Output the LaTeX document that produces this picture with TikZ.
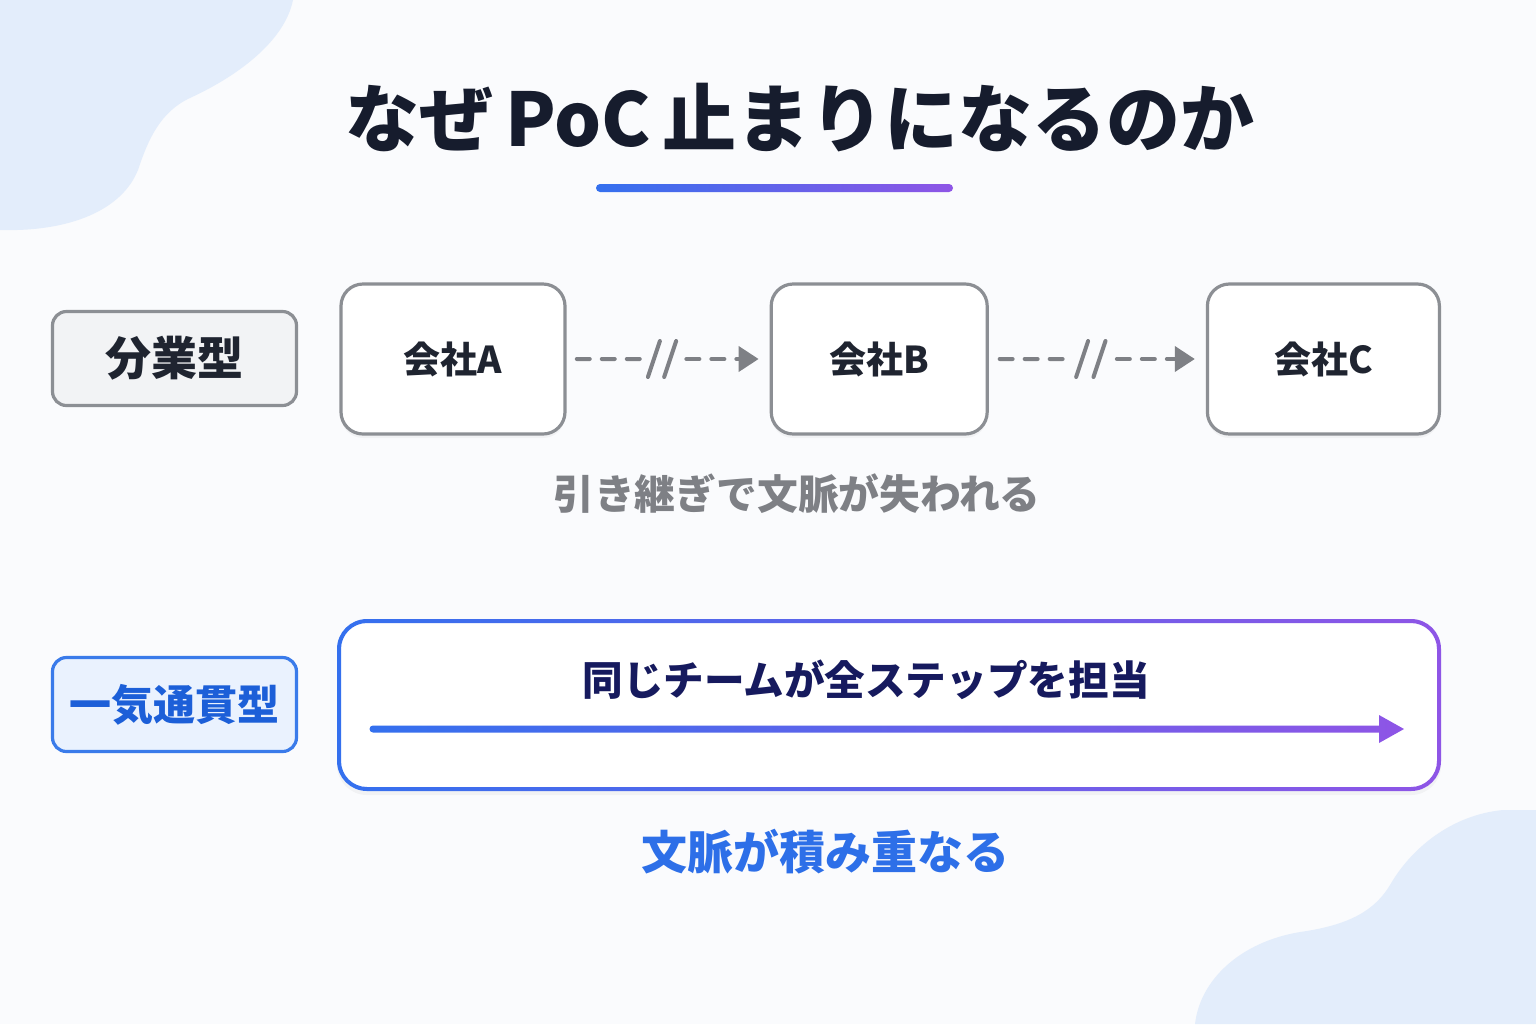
\documentclass[tikz,border=0pt]{standalone}
\usepackage{fontspec}
\setmainfont{Noto Sans CJK JP}
\usepackage{xcolor}
\usetikzlibrary{positioning,calc,arrows.meta,shadows}

\definecolor{pagebg}{HTML}{FAFBFD}
\definecolor{blobblue}{HTML}{E3EDFB}
\definecolor{titleink}{HTML}{161C2D}
\definecolor{textdark}{HTML}{1F2430}
\definecolor{boxgray}{HTML}{8C8F94}
\definecolor{labelgray}{HTML}{F2F3F5}
\definecolor{linkgray}{HTML}{7E8085}
\definecolor{labelblue}{HTML}{3A7BEA}
\definecolor{labelbluefill}{HTML}{EAF2FE}
\definecolor{labelbluetext}{HTML}{1C5FD8}
\definecolor{teamink}{HTML}{161A5E}
\definecolor{gainblue}{HTML}{2D6FE8}
\definecolor{flowblue}{HTML}{3470EE}
\definecolor{flowpurple}{HTML}{8E55E6}

\begin{document}
\begin{tikzpicture}[x=0.5pt, y=-0.5pt,
    kind/.style={rounded corners=7pt, line width=1.6pt, minimum width=122pt, minimum height=47pt},
    company/.style={draw=boxgray, line width=1.6pt, fill=white, rounded corners=11pt,
        minimum height=75pt, text=textdark, font=\bfseries\fontsize{18.5}{22}\selectfont,
        drop shadow={opacity=0.07, shadow xshift=0pt, shadow yshift=-2pt}},
    handoff/.style={draw=linkgray, line width=2pt, line cap=round, dash pattern=on 6.5pt off 6pt},
    cut/.style={draw=linkgray, line width=2pt, line cap=round}]

    % page and background blobs
    \fill[pagebg] (0,0) rectangle (1536,1024);
    \useasboundingbox (0,0) rectangle (1536,1024);
    \fill[blobblue] (0,0) -- (293,0) .. controls (285,40) and (240,75) .. (190,98)
        .. controls (160,112) and (148,140) .. (138,170)
        .. controls (122,210) and (70,232) .. (0,230) -- cycle;
    \fill[blobblue] (1536,810) -- (1503,810) .. controls (1450,815) and (1410,850) .. (1390,885)
        .. controls (1375,910) and (1350,925) .. (1300,932)
        .. controls (1240,942) and (1200,980) .. (1195,1024) -- (1536,1024) -- cycle;

    % title
    \node[text=titleink, font=\bfseries\fontsize{37}{42}\selectfont] (title) at (800,118) {なぜ\hspace{6pt}PoC\hspace{6pt}止まりになるのか};
    \shade[left color=flowblue, right color=flowpurple, rounded corners=2pt] (596,184) rectangle (953,192);

    % split work
    \node[kind, draw=boxgray, fill=labelgray, text=textdark, font=\bfseries\fontsize{23}{26}\selectfont] (split) at (174.5,358.5) {分業型};
    \node[company, minimum width=112pt] (compA) at (453,359) {会社A};
    \node[company, minimum width=108pt, right=101.5pt of compA] (compB) {会社B};
    \node[company, minimum width=116pt, right=108.5pt of compB] (compC) {会社C};

    \foreach \s/\t in {compA/compB, compB/compC} {
        \coordinate (h0) at ($(\s.east)!0.05!(\t.west)$);
        \coordinate (h1) at ($(\s.east)!0.38!(\t.west)$);
        \coordinate (h2) at ($(\s.east)!0.59!(\t.west)$);
        \coordinate (h3) at ($(\t.west)+(-11,0)$);
        \coordinate (s1) at ($(\s.east)!0.43!(\t.west)$);
        \coordinate (s2) at ($(\s.east)!0.51!(\t.west)$);
        \draw[handoff] (h0) -- (h1);
        \draw[handoff, -{Triangle[length=10pt, width=12.5pt]}] (h2) -- (h3);
        \draw[cut] ($(s1)+(-6,18)$) -- ($(s1)+(6,-18)$);
        \draw[cut] ($(s2)+(-6,18)$) -- ($(s2)+(6,-18)$);
    }

    \node[text=linkgray, font=\bfseries\fontsize{20.4}{24}\selectfont] (lost) at (797,494) {引き継ぎで文脈が失われる};

    % end to end
    \node[kind, draw=labelblue, fill=labelbluefill, text=labelbluetext, font=\bfseries\fontsize{21}{24}\selectfont] (through) at (174.5,704.5) {一気通貫型};
    \node[fill=white, rounded corners=15pt, minimum width=552pt, minimum height=86pt, inner sep=0pt, outer sep=0pt,
        drop shadow={opacity=0.07, shadow xshift=0pt, shadow yshift=-2pt}] (team) at (889,705) {};
    \shade[left color=flowblue, right color=flowpurple, even odd rule]
        [rounded corners=15pt] (team.north west) rectangle (team.south east)
        [rounded corners=13pt] ($(team.north west)+(4,4)$) rectangle ($(team.south east)+(-4,-4)$);
    \node[text=teamink, font=\bfseries\fontsize{20.3}{24}\selectfont] (teamtext) at (866,680) {同じチームが全ステップを担当};

    \coordinate (flowstart) at ($(team.west)+(36,24)$);
    \coordinate (flowend) at ($(team.east)+(-37,24)$);
    \shade[left color=flowblue, right color=flowpurple]
        ($(flowstart)+(0,-3.5)$) -- ($(flowend)+(-25,-3.5)$) -- ($(flowend)+(-25,-14)$) -- (flowend)
        -- ($(flowend)+(-25,14)$) -- ($(flowend)+(-25,3.5)$) -- ($(flowstart)+(0,3.5)$) -- cycle
        (flowstart) circle[radius=3.5];

    \node[text=gainblue, font=\bfseries\fontsize{23}{26}\selectfont] (gain) at (825,852) {文脈が積み重なる};
\end{tikzpicture}
\end{document}
